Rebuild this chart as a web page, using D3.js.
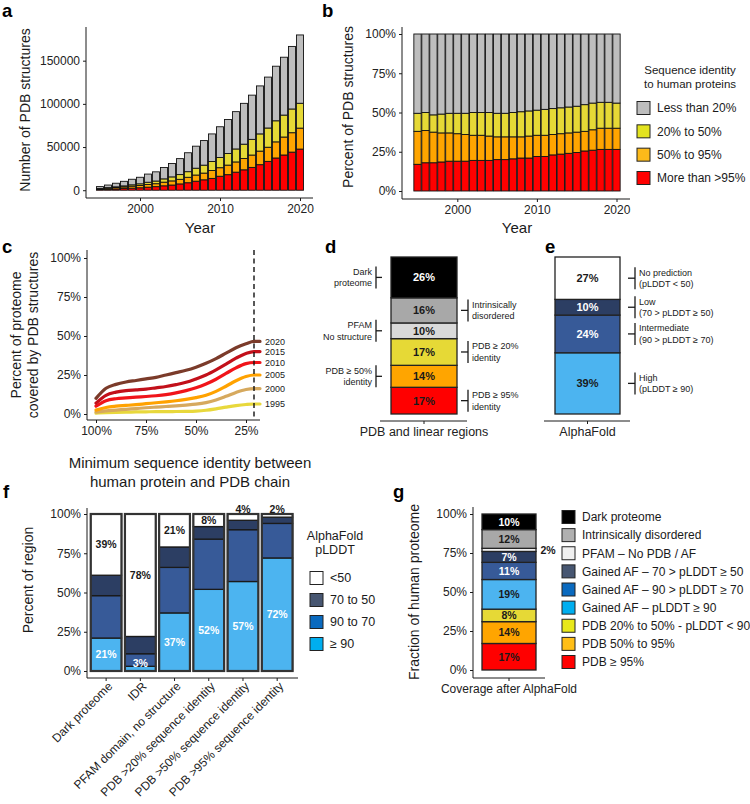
<!DOCTYPE html>
<html><head><meta charset="utf-8">
<script src="https://cdn.jsdelivr.net/npm/d3@7"></script>
<style>
body{margin:0;background:#fff}
svg{display:block}
text{font-family:'Liberation Sans',Arial,Helvetica,sans-serif;fill:#1a1a1a}
</style>
</head><body>
<svg id="fig" width="750" height="804"></svg>
<script>
// ---------- DATA ----------
// Panels a & b: PDB structures by year and sequence identity to human proteins
const years = [1995,1996,1997,1998,1999,2000,2001,2002,2003,2004,2005,2006,2007,2008,2009,2010,2011,2012,2013,2014,2015,2016,2017,2018,2019,2020];
const totals = [4200,6000,8100,10300,12700,15000,18700,21300,26300,30900,36600,43400,51000,57500,65200,73500,81900,91000,100600,110100,120800,131000,143600,154000,166500,179800];
const shareMore95 = [17,18,18,18.5,19,19,19,19.5,19.5,19.5,20,20,20.5,21,21,22,22,23,23.5,24,24.5,25.5,26,26.5,26.5,26.5];
const share50to95 = [21,20.5,19.5,18.5,18,17.5,17,16,16,15.5,14.5,14.5,14,13.5,14,13.5,13.5,13,13,13,13,12.5,13,13.5,13.5,13.5];
const share20to50 = [11.5,11.5,11,12,12.5,13,13.5,14.5,14.5,15,15,15,15.5,16,16,16,16.5,16.5,16.5,16.5,16.5,17,17,16.5,16.5,16];
const shareLess20 = [50.5,50,51.5,51,50.5,50.5,50.5,50,50,50,50.5,50.5,50,49.5,49,48.5,48,47.5,47,46.5,46,45,44,43.5,43.5,44];
const seqKeys = ["more95","p50to95","p20to50","less20"];
const seqLegendLabels = ["Less than 20%","20% to 50%","50% to 95%","More than >95%"];
const aTicks = [0,50000,100000,150000];
const yearTicks = [2000,2010,2020];
const pctTicks = [0,25,50,75,100];

// Panel c: coverage curves
const identityPts = [100,95,90,85,80,75,70,65,60,55,50,45,40,35,30,25,21,18];
const cov2020 = [10,16.5,19,20.5,21.5,22.5,23.5,25,26.5,28,30,32.5,35.5,39,42.5,45,46.5,46.5];
const cov2015 = [7,12,14,15,15.5,16,16.8,17.6,18.8,20.3,22.5,25,28.3,32,35.8,38.8,40,40];
const cov2010 = [5,8.5,9.8,10.3,10.8,11.2,11.7,12.4,13.5,15,16.8,19.2,22.3,26,29.6,32.3,33,33];
const cov2005 = [2.5,4.2,5,5.5,6,6.6,7.2,7.8,8.5,9.4,10.5,12,14.5,17.8,21.3,24,25,25];
const cov2000 = [1.2,2,2.5,3,3.5,4,4.4,4.8,5.2,5.7,6.3,7.3,9,11.3,13.8,15.7,16.3,16.3];
const cov1995 = [0.6,0.9,1.1,1.2,1.3,1.4,1.5,1.5,1.6,1.7,1.9,2.4,3.3,4.4,5.4,6.1,6.4,6.4];
const curveYears = ["1995","2000","2005","2010","2015","2020"];
const cutoffIdentity = 21;

// Panel d: PDB and linear regions (bottom to top)
const dLabels = ["PDB ≥ 95%","PDB 50-95%","PDB 20-50%","PFAM no structure","Intrinsically disordered","Dark proteome"];
const dValues = [17,14,17,10,16,26];
// Panel e: AlphaFold (bottom to top)
const eLabels = ["High","Intermediate","Low","No prediction"];
const eValues = [39,24,10,27];

// Panel f
const fCategories = ["Dark proteome","IDR","PFAM domain, no structure","PDB >20% sequence identity","PDB >50% sequence identity","PDB >95% sequence identity"];
const fGe90 = [21,3,37,52,57,72];
const f90to70 = [27,8,29,32,33,22];
const f70to50 = [13,11,13,8,6,4];
const fLt50 = [39,78,21,8,4,2];
const fLegendLabels = ["<50","70 to 50","90 to 70","≥ 90"];

// Panel g (bottom to top)
const gValues = [17,14,8,19,11,7,2,12,10];
const gLegendLabels = ["Dark proteome","Intrinsically disordered","PFAM – No PDB / AF","Gained AF – 70 > pLDDT ≥ 50","Gained AF – 90 > pLDDT ≥ 70","Gained AF – pLDDT ≥ 90","PDB 20% to 50% - pLDDT < 90","PDB 50% to 95%","PDB ≥ 95%"];

// ---------- STYLE ----------
const C = {grey:"#bebebe", yellow:"#e6d936", orange:"#ffa500", red:"#ff0000",
  navy:"#2c3e63", mid:"#375a98", light:"#4cb4f0", black:"#000000", dgrey:"#a8a8a8", lgrey:"#d9d9d9"};
const seqColors = {more95:C.red, p50to95:C.orange, p20to50:C.yellow, less20:C.grey};
const seqLegendColors = ["#bdbdbd","#e3e31f","#fdba1a","#ff0000"];
const curveColors = {"1995":"#e8d83c","2000":"#d6a95e","2005":"#ffa200","2010":"#f0141a","2015":"#c2101a","2020":"#7b3b2a"};

const svg = d3.select("#fig");
const ink = "#1a1a1a";

function txt(g, x, y, s, size, opts={}) {
  const t = g.append("text").attr("x",x).attr("y",y).text(s)
    .style("font-size", size+"px");
  if (opts.anchor) t.attr("text-anchor", opts.anchor);
  if (opts.bold) t.style("font-weight","bold");
  if (opts.fill) t.style("fill", opts.fill);
  if (opts.dy) t.attr("dy", opts.dy);
  return t;
}
function line(g,x1,y1,x2,y2,w=1,col=ink){
  return g.append("line").attr("x1",x1).attr("y1",y1).attr("x2",x2).attr("y2",y2)
    .attr("stroke",col).attr("stroke-width",w);
}
function styleAxis(sel, size){
  sel.select(".domain").remove();
  sel.selectAll(".tick line").attr("stroke",ink).attr("stroke-width",1);
  sel.selectAll(".tick text").style("font-size",size+"px").style("fill","#222")
     .style("font-family","'Liberation Sans',Arial,sans-serif");
}
function vtitle(g, x, y, s, size){
  return g.append("text").attr("transform",`translate(${x},${y}) rotate(-90)`)
    .attr("text-anchor","middle").attr("dy","0.35em").style("font-size",size+"px").text(s);
}
function panelLetter(x,y,s){ txt(svg,x,y,s,18.5,{bold:true}).style("fill","#000"); }

// ---------- PANEL A ----------
(function(){
  const g = svg.append("g");
  const x = d3.scaleLinear().domain([1995,2020]).range([100,300]);
  const y = d3.scaleLinear().domain([-9000,189000]).range([198,27]);
  const table = years.map((yr,i)=>({year:yr,
    more95: totals[i]*shareMore95[i]/100, p50to95: totals[i]*share50to95[i]/100,
    p20to50: totals[i]*share20to50[i]/100, less20: totals[i]*shareLess20[i]/100}));
  const stack = d3.stack().keys(seqKeys)(table);
  const bw = 7;
  g.selectAll("g.s").data(stack).join("g").attr("fill",d=>seqColors[d.key])
    .selectAll("rect").data(d=>d).join("rect")
    .attr("x",d=>x(d.data.year)-bw/2).attr("width",bw)
    .attr("y",d=>y(d[1])).attr("height",d=>Math.max(0,y(d[0])-y(d[1])))
    .attr("stroke","#111").attr("stroke-width",0.9);
  line(g,86,27,86,198); line(g,86,198,313,198);
  const ya = g.append("g").attr("transform","translate(86,0)")
    .call(d3.axisLeft(y).tickValues(aTicks).tickFormat(d3.format("d")).tickSize(3).tickPadding(3));
  styleAxis(ya,12);
  const xa = g.append("g").attr("transform","translate(0,198)")
    .call(d3.axisBottom(x).tickValues(yearTicks).tickFormat(d3.format("d")).tickSize(3).tickPadding(3));
  styleAxis(xa,12);
  vtitle(g,25,110,"Number of PDB structures",14);
  txt(g,200,233,"Year",15,{anchor:"middle"});
  panelLetter(2,17,"a");
})();

// ---------- PANEL B ----------
(function(){
  const g = svg.append("g");
  const x = d3.scaleLinear().domain([1995,2020]).range([417.5,616.5]);
  const y = d3.scaleLinear().domain([0,100]).range([191,34]);
  const table = years.map((yr,i)=>({year:yr, more95:shareMore95[i], p50to95:share50to95[i],
    p20to50:share20to50[i], less20:shareLess20[i]}));
  const stack = d3.stack().keys(seqKeys).offset(d3.stackOffsetExpand)(table);
  const bw = 7.3;
  g.selectAll("g.s").data(stack).join("g").attr("fill",d=>seqColors[d.key])
    .selectAll("rect").data(d=>d).join("rect")
    .attr("x",d=>x(d.data.year)-bw/2).attr("width",bw)
    .attr("y",d=>y(d[1]*100)).attr("height",d=>y(d[0]*100)-y(d[1]*100))
    .attr("stroke","#111").attr("stroke-width",0.9);
  line(g,402,27,402,199); line(g,402,199,630,199);
  const ya = g.append("g").attr("transform","translate(402,0)")
    .call(d3.axisLeft(y).tickValues(pctTicks).tickFormat(d=>d+"%").tickSize(3).tickPadding(3));
  styleAxis(ya,12);
  const xa = g.append("g").attr("transform","translate(0,199)")
    .call(d3.axisBottom(x).tickValues(yearTicks).tickFormat(d3.format("d")).tickSize(3).tickPadding(3));
  styleAxis(xa,12);
  vtitle(g,348,107,"Percent of PDB structures",14);
  txt(g,517,233,"Year",15,{anchor:"middle"});
  panelLetter(322,17,"b");
  // legend
  txt(g,690,74,"Sequence identity",11.5,{anchor:"middle"});
  txt(g,690,88,"to human proteins",11.5,{anchor:"middle"});
  const ly = d3.scalePoint().domain(seqLegendLabels).range([108,178]);
  seqLegendLabels.forEach((lab,i)=>{
    g.append("rect").attr("x",637).attr("y",ly(lab)-6.5).attr("width",13).attr("height",13)
      .attr("fill",seqLegendColors[i]).attr("stroke","#222").attr("stroke-width",1);
    txt(g,657,ly(lab)+4.3,lab,12);
  });
})();

// ---------- PANEL C ----------
(function(){
  const g = svg.append("g");
  const x = d3.scaleLinear().domain([100,25]).range([96,246]);
  const y = d3.scaleLinear().domain([0,100]).range([414,258]);
  const series = {"1995":cov1995,"2000":cov2000,"2005":cov2005,"2010":cov2010,"2015":cov2015,"2020":cov2020};
  const lg = d3.line().x(d=>x(d[0])).y(d=>y(d[1])).curve(d3.curveMonotoneX);
  curveYears.forEach(yr=>{
    const pts = identityPts.map((p,i)=>[p,series[yr][i]]);
    g.append("path").attr("d",lg(pts)).attr("fill","none")
      .attr("stroke",curveColors[yr]).attr("stroke-width",3.2).attr("stroke-linecap","round");
    const last = series[yr][series[yr].length-1];
    txt(g,265,y(last),yr,9,{dy:"0.35em"});
  });
  line(g,x(cutoffIdentity),250,x(cutoffIdentity),420,1.4,"#111").attr("stroke-dasharray","5,3.5");
  line(g,87,250,87,420); line(g,87,420,260,420);
  const ya = g.append("g").attr("transform","translate(87,0)")
    .call(d3.axisLeft(y).tickValues(pctTicks).tickFormat(d=>d+"%").tickSize(3).tickPadding(3));
  styleAxis(ya,12);
  const xa = g.append("g").attr("transform","translate(0,420)")
    .call(d3.axisBottom(x).tickValues([100,75,50,25]).tickFormat(d=>d+"%").tickSize(3).tickPadding(3));
  styleAxis(xa,12);
  vtitle(g,16,335,"Percent of proteome",14);
  vtitle(g,33,335,"covered by PDB structures",14);
  txt(g,190,468,"Minimum sequence identity between",15,{anchor:"middle"});
  txt(g,190,487,"human protein and PDB chain",15,{anchor:"middle"});
  panelLetter(2,253,"c");
})();

// ---------- PANEL D & E ----------
function bracketLeft(g, xv, yc, lines){
  line(g,xv,yc-11,xv,yc+11,1.3); line(g,xv,yc,xv+6,yc,1.3);
  lines.forEach((s,i)=>txt(g,xv-4,yc+(i-(lines.length-1)/2)*11.5,s,9,{anchor:"end",dy:"0.35em"}));
}
function bracketRight(g, xv, yc, lines){
  line(g,xv,yc-11,xv,yc+11,1.3); line(g,xv-7,yc,xv,yc,1.3);
  lines.forEach((s,i)=>txt(g,xv+4,yc+(i-(lines.length-1)/2)*11.5,s,9,{dy:"0.35em"}));
}
(function(){
  const g = svg.append("g");
  const y = d3.scaleLinear().domain([0,100]).range([414,257]);
  const x = d3.scaleBand().domain(["PDB and linear regions"]).range([391,457]);
  const dColors = [C.red,C.orange,C.yellow,C.lgrey,C.dgrey,C.black];
  const dText = [ink,ink,ink,ink,ink,"#fff"];
  let cum = 0;
  const segs = dValues.map((v,i)=>{ const s={i,v,y0:cum,y1:cum+v}; cum+=v; return s; });
  segs.forEach(s=>{
    g.append("rect").attr("x",x.range()[0]).attr("width",x.bandwidth())
      .attr("y",y(s.y1)).attr("height",y(s.y0)-y(s.y1))
      .attr("fill",dColors[s.i]).attr("stroke","#222").attr("stroke-width",1.3);
    txt(g,x.range()[0]+x.bandwidth()/2,y((s.y0+s.y1)/2),s.v+"%",11,{anchor:"middle",bold:true,dy:"0.36em",fill:dText[s.i]});
  });
  const mid = s=>y((s.y0+s.y1)/2);
  bracketLeft(g,376,mid(segs[5]),["Dark","proteome"]);
  bracketLeft(g,376,mid(segs[3]),["PFAM","No structure"]);
  bracketLeft(g,376,mid(segs[1]),["PDB ≥ 50%","identity"]);
  bracketRight(g,468,mid(segs[4]),["Intrinsically","disordered"]);
  bracketRight(g,468,mid(segs[2]),["PDB ≥ 20%","identity"]);
  bracketRight(g,468,mid(segs[0]),["PDB ≥ 95%","identity"]);
  line(g,380,421,467,421);
  const xa = g.append("g").attr("transform","translate(0,421)")
    .call(d3.axisBottom(x).tickSize(3).tickPadding(3));
  styleAxis(xa,12.5);
  panelLetter(325,253,"d");
})();
(function(){
  const g = svg.append("g");
  const y = d3.scaleLinear().domain([0,100]).range([414,257]);
  const x = d3.scaleBand().domain(["AlphaFold"]).range([555,620]);
  const eColors = [C.light,C.mid,C.navy,"#ffffff"];
  const eText = [ink,"#fff","#fff",ink];
  let cum = 0;
  const segs = eValues.map((v,i)=>{ const s={i,v,y0:cum,y1:cum+v}; cum+=v; return s; });
  segs.forEach(s=>{
    g.append("rect").attr("x",x.range()[0]).attr("width",x.bandwidth())
      .attr("y",y(s.y1)).attr("height",y(s.y0)-y(s.y1))
      .attr("fill",eColors[s.i]).attr("stroke","#222").attr("stroke-width",1.3);
    txt(g,x.range()[0]+x.bandwidth()/2,y((s.y0+s.y1)/2),s.v+"%",11,{anchor:"middle",bold:true,dy:"0.36em",fill:eText[s.i]});
  });
  const mid = s=>y((s.y0+s.y1)/2);
  bracketRight(g,635,mid(segs[3]),["No prediction","(pLDDT < 50)"]);
  bracketRight(g,635,mid(segs[2]),["Low","(70 > pLDDT ≥ 50)"]);
  bracketRight(g,635,mid(segs[1]),["Intermediate","(90 > pLDDT ≥ 70)"]);
  bracketRight(g,635,mid(segs[0]),["High","(pLDDT ≥ 90)"]);
  line(g,544,421,630,421);
  const xa = g.append("g").attr("transform","translate(0,421)")
    .call(d3.axisBottom(x).tickSize(3).tickPadding(3));
  styleAxis(xa,12.5);
  panelLetter(545,253,"e");
})();

// ---------- PANEL F ----------
(function(){
  const g = svg.append("g");
  const x = d3.scaleBand().domain(fCategories).range([87.3,296]).paddingInner(0.1).paddingOuter(0.1);
  const y = d3.scaleLinear().domain([0,100]).range([671,514]);
  const table = fCategories.map((c,i)=>({cat:c, ge90:fGe90[i], m90:f90to70[i], m70:f70to50[i], lt50:fLt50[i]}));
  const keys = ["ge90","m90","m70","lt50"];
  const cols = {ge90:C.light, m90:C.mid, m70:C.navy, lt50:"#ffffff"};
  const stack = d3.stack().keys(keys)(table);
  g.selectAll("g.s").data(stack).join("g").attr("fill",d=>cols[d.key])
    .selectAll("rect").data(d=>d).join("rect")
    .attr("x",d=>x(d.data.cat)).attr("width",x.bandwidth())
    .attr("y",d=>y(d[1])).attr("height",d=>y(d[0])-y(d[1]))
    .attr("stroke","#1a1a1a").attr("stroke-width",1.3);
  g.selectAll("rect.o").data(table).join("rect").attr("class","o")
    .attr("x",d=>x(d.cat)).attr("width",x.bandwidth()).attr("y",y(100)).attr("height",y(0)-y(100))
    .attr("fill","none").attr("stroke","#333").attr("stroke-width",2.2);
  table.forEach(d=>{
    const cx = x(d.cat)+x.bandwidth()/2;
    const yl = Math.min(y(d.ge90/2), y(0)-8);
    txt(g,cx,yl,d.ge90+"%",10.5,{anchor:"middle",bold:true,dy:"0.36em",fill:"#fff"});
    if (d.lt50 >= 8) txt(g,cx,y(100-d.lt50/2),d.lt50+"%",10.5,{anchor:"middle",bold:true,dy:"0.36em"});
    else txt(g,cx,y(100)-5,d.lt50+"%",10.5,{anchor:"middle",bold:true,dy:"0.36em"});
  });
  line(g,87,508,87,678); line(g,87,678,298,678);
  const ya = g.append("g").attr("transform","translate(87,0)")
    .call(d3.axisLeft(y).tickValues(pctTicks).tickFormat(d=>d+"%").tickSize(3).tickPadding(3));
  styleAxis(ya,12);
  const xa = g.append("g").attr("transform","translate(0,678)")
    .call(d3.axisBottom(x).tickSize(3).tickPadding(3));
  styleAxis(xa,12);
  xa.selectAll(".tick text").attr("text-anchor","end").attr("y",0).attr("dy",0)
    .attr("transform","translate(7,9) rotate(-45)");
  vtitle(g,28,580,"Percent of region",14);
  // legend
  txt(g,335,540,"AlphaFold",12.5,{anchor:"middle"});
  txt(g,335,554,"pLDDT",12.5,{anchor:"middle"});
  const legCols = ["#ffffff","#475671","#0a6abf","#00aeef"];
  const ly = d3.scalePoint().domain(fLegendLabels).range([578,644]);
  fLegendLabels.forEach((lab,i)=>{
    g.append("rect").attr("x",310).attr("y",ly(lab)-6.5).attr("width",13).attr("height",13)
      .attr("fill",legCols[i]).attr("stroke","#222").attr("stroke-width",1);
    txt(g,330,ly(lab)+4.4,lab,12.5);
  });
  panelLetter(3,498,"f");
})();

// ---------- PANEL G ----------
(function(){
  const g = svg.append("g");
  const x = d3.scaleBand().domain(["Coverage after AlphaFold"]).range([482,536]);
  const y = d3.scaleLinear().domain([0,100]).range([670,514]);
  const barCols = [C.red,C.orange,C.yellow,C.light,C.mid,C.navy,"#f0f0f0",C.dgrey,C.black];
  const textCols = [ink,ink,ink,ink,"#fff","#fff",null,ink,"#fff"];
  let cum = 0;
  gValues.forEach((v,i)=>{
    const y0=cum, y1=cum+v; cum+=v;
    g.append("rect").attr("x",x.range()[0]).attr("width",x.bandwidth())
      .attr("y",y(y1)).attr("height",y(y0)-y(y1))
      .attr("fill",barCols[i]).attr("stroke","#222").attr("stroke-width",1.3);
    if (textCols[i]) txt(g,x.range()[0]+x.bandwidth()/2,y((y0+y1)/2),v+"%",10.5,{anchor:"middle",bold:true,dy:"0.36em",fill:textCols[i]});
    else txt(g,548,y((y0+y1)/2),v+"%",10.5,{anchor:"middle",bold:true,dy:"0.36em"});
  });
  line(g,473,507,473,678); line(g,473,678,545,678);
  const ya = g.append("g").attr("transform","translate(473,0)")
    .call(d3.axisLeft(y).tickValues(pctTicks).tickFormat(d=>d+"%").tickSize(3).tickPadding(3));
  styleAxis(ya,12);
  const xa = g.append("g").attr("transform","translate(0,678)")
    .call(d3.axisBottom(x).tickSize(3).tickPadding(3));
  styleAxis(xa,12);
  vtitle(g,414,592,"Fraction of human proteome",14);
  const legCols = ["#000000","#b0b0b0","#f0f0f0","#475671","#0a6abf","#00aeef","#e8e81a","#ffbe16","#ff0000"];
  const ly = d3.scalePoint().domain(gLegendLabels).range([517,662]);
  gLegendLabels.forEach((lab,i)=>{
    g.append("rect").attr("x",562).attr("y",ly(lab)-6.5).attr("width",13).attr("height",13)
      .attr("fill",legCols[i]).attr("stroke","#222").attr("stroke-width",1);
    txt(g,582,ly(lab)+4.3,lab,12);
  });
  panelLetter(393,498,"g");
})();
</script>
</body></html>
